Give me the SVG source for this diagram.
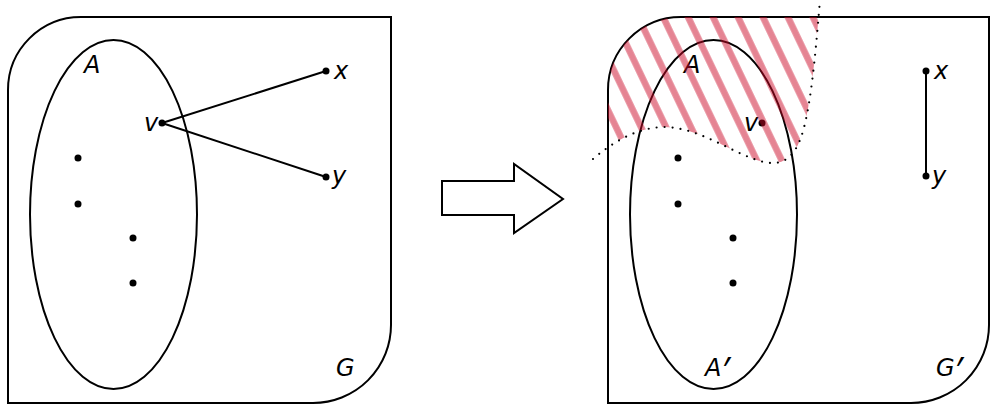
<svg xmlns="http://www.w3.org/2000/svg" width="991" height="405" viewBox="0 0 991 405">
<style>
.frame{fill:none;stroke:#000;stroke-width:2}
.set{fill:none;stroke:#000;stroke-width:2}
.edge{fill:none;stroke:#000;stroke-width:2}
.dot{fill:#000}
.lbl{font-family:"DejaVu Sans",sans-serif;font-style:italic;font-size:24px;fill:#000}
.prime{font-family:"Noto Sans","DejaVu Sans",sans-serif;font-style:italic;font-size:34px}
.dotted{fill:none;stroke:#000;stroke-width:2.2;stroke-linecap:round;stroke-dasharray:0 8}
</style>
<defs>
<pattern id="hatch" patternUnits="userSpaceOnUse" width="22.5" height="40" patternTransform="translate(752.8,21.9) rotate(-25.6)">
<rect x="8" y="0" width="6.5" height="40" fill="#cc0a28" fill-opacity="0.5"/>
</pattern>
<clipPath id="above">
<path d="M 560,0 L 560,159 L 593,159 C 615,140 640,127 665,127 C 700,128 730,152 760,161 C 780,167 792,160 800,140 C 810,115 815,60 820,0 Z"/>
</clipPath>
</defs>

<g id="left-graph">
<g id="G"><path class="frame" d="M 8,90 A 73 73 0 0 1 81,17 L 391,17 L 391,325 A 78 78 0 0 1 313,403 L 8,403 Z"/><text class="lbl" x="336" y="376">G</text></g>
<g id="A"><ellipse class="set" cx="113.5" cy="214.5" rx="83.5" ry="174.5"/><text class="lbl" x="84" y="73">A</text></g>
<g id="edges-left">
<line class="edge" x1="162" y1="123" x2="326" y2="71"/>
<line class="edge" x1="162" y1="123" x2="326" y2="177"/>
</g>
<g id="v"><circle class="dot" cx="162" cy="123" r="3.5"/><text class="lbl" x="144" y="131">v</text></g>
<g id="x"><circle class="dot" cx="326" cy="71" r="3.5"/><text class="lbl" x="334" y="79">x</text></g>
<g id="y"><circle class="dot" cx="326" cy="177" r="3.5"/><text class="lbl" x="332" y="184">y</text></g>
<g id="a1"><circle class="dot" cx="78" cy="158" r="3.5"/></g>
<g id="a2"><circle class="dot" cx="78" cy="204" r="3.5"/></g>
<g id="a3"><circle class="dot" cx="133" cy="238" r="3.5"/></g>
<g id="a4"><circle class="dot" cx="133" cy="283" r="3.5"/></g>
</g>

<g id="transform-arrow">
<path d="M 442,181 L 514,181 L 514,164 L 563,199 L 514,233 L 514,215 L 442,215 Z" fill="#fff" stroke="#000" stroke-width="2"/>
</g>

<g id="right-graph">
<g id="G2"><path class="frame" d="M 608,90 A 73 73 0 0 1 681,17 L 989,17 L 989,325 A 78 78 0 0 1 911,403 L 608,403 Z"/><text class="lbl" x="936" y="376">G<tspan class="prime" dy="6">′</tspan></text></g>
<g id="A2"><ellipse class="set" cx="713.5" cy="214.5" rx="83.5" ry="174.5"/><text class="lbl" x="684" y="73">A</text><text class="lbl" x="705" y="376">A<tspan class="prime" dy="6">′</tspan></text></g>
<g id="edges-right">
<line class="edge" x1="926" y1="71" x2="926" y2="176"/>
</g>
<g id="v2"><circle class="dot" cx="762" cy="123" r="3.5"/><text class="lbl" x="744" y="131">v</text></g>
<g id="x2"><circle class="dot" cx="926" cy="71" r="3.5"/><text class="lbl" x="934" y="79">x</text></g>
<g id="y2"><circle class="dot" cx="926" cy="176" r="3.5"/><text class="lbl" x="932" y="184">y</text></g>
<g id="b1"><circle class="dot" cx="678" cy="158" r="3.5"/></g>
<g id="b2"><circle class="dot" cx="678" cy="204" r="3.5"/></g>
<g id="b3"><circle class="dot" cx="733" cy="238" r="3.5"/></g>
<g id="b4"><circle class="dot" cx="733" cy="283" r="3.5"/></g>
<g id="hatched-region">
<g clip-path="url(#above)"><path d="M 608,90 A 73 73 0 0 1 681,17 L 989,17 L 989,325 A 78 78 0 0 1 911,403 L 608,403 Z" fill="url(#hatch)"/></g>
<path class="dotted" d="M 593,159 C 615,140 640,127 665,127 C 700,128 730,152 760,161 C 780,167 792,160 800,140 C 810,115 815,60 820,0"/>
</g>
</g>
</svg>
